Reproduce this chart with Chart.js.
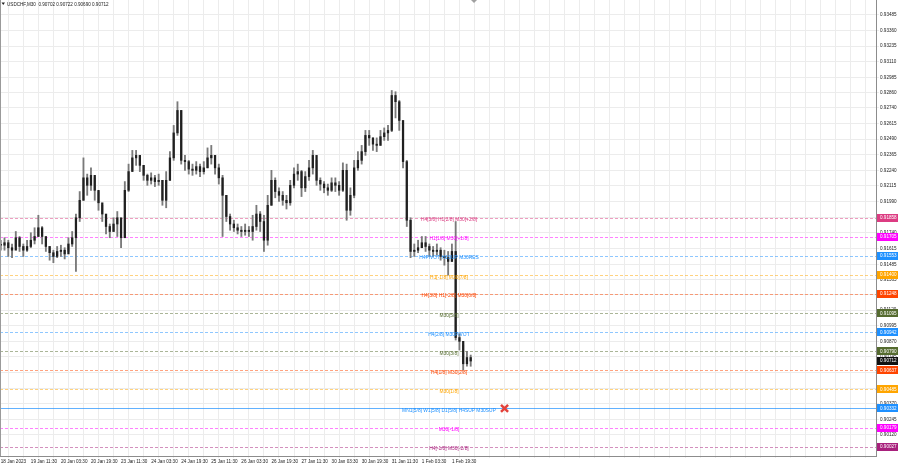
<!DOCTYPE html>
<html>
<head>
<meta charset="utf-8">
<script src="https://cdn.jsdelivr.net/npm/chart.js@4"></script>
<style>
html, body { margin: 0; padding: 0; background: #fff; }
#wrap { width: 900px; height: 468px; }
</style>
</head>
<body>
<div id="wrap"><canvas id="chart" width="900" height="468"></canvas></div>
<script>
const closes = [
    0.9164, 0.9166, 0.9162, 0.9160, 0.9170, 0.9163, 0.9160, 0.9163, 0.9168, 0.9171,
    0.9178, 0.9171, 0.9163, 0.9158, 0.9155, 0.9159, 0.9160, 0.9157, 0.9165, 0.9170,
    0.9186, 0.9200, 0.9218, 0.9212, 0.9220, 0.9208, 0.9198, 0.9189, 0.9179, 0.9175,
    0.9181, 0.9186, 0.9170, 0.9208, 0.9223, 0.9234, 0.9236, 0.9228, 0.9220, 0.9216,
    0.9218, 0.9215, 0.9216, 0.9200, 0.9216, 0.9234, 0.9254, 0.9272, 0.9232, 0.9231,
    0.9225, 0.9224, 0.9227, 0.9223, 0.9226, 0.9234, 0.9236, 0.9226, 0.9218, 0.9204,
    0.9187, 0.9181, 0.9178, 0.9176, 0.9175, 0.9176, 0.9175, 0.9179, 0.9189, 0.9183,
    0.9168, 0.9196, 0.9216, 0.9207, 0.9204, 0.9200, 0.9198, 0.9212, 0.9221, 0.9223,
    0.9210, 0.9219, 0.9226, 0.9236, 0.9216, 0.9213, 0.9210, 0.9208, 0.9214, 0.9212,
    0.9208, 0.9224, 0.9192, 0.9204, 0.9226, 0.9232, 0.9239, 0.9252, 0.9250, 0.9245,
    0.9244, 0.9251, 0.9254, 0.9256, 0.9284, 0.9279, 0.9264, 0.9231, 0.9184, 0.9159,
    0.9160, 0.9162, 0.9166, 0.9163, 0.9160, 0.9159, 0.9160, 0.9155, 0.9154, 0.9151,
    0.9159, 0.9090, 0.9087, 0.9069, 0.9074, 0.90712
];
const highs = [
    0.9168, 0.9170, 0.9168, 0.9165, 0.9175, 0.9171, 0.9165, 0.9168, 0.9174, 0.9178,
    0.9188, 0.9179, 0.9170, 0.9163, 0.9160, 0.9163, 0.9164, 0.9162, 0.9170, 0.9175,
    0.9189, 0.9207, 0.9234, 0.9221, 0.9226, 0.9218, 0.9207, 0.9196, 0.9187, 0.9181,
    0.9186, 0.9191, 0.9183, 0.9215, 0.9229, 0.9240, 0.9240, 0.9236, 0.9228, 0.9221,
    0.9222, 0.9220, 0.9221, 0.9216, 0.9223, 0.9239, 0.9260, 0.9279, 0.9272, 0.9236,
    0.9232, 0.9229, 0.9231, 0.9229, 0.9231, 0.9242, 0.9244, 0.9236, 0.9229, 0.9220,
    0.9204, 0.9189, 0.9184, 0.9181, 0.9179, 0.9181, 0.9179, 0.9188, 0.9196, 0.9191,
    0.9188, 0.9204, 0.9224, 0.9218, 0.9210, 0.9207, 0.9204, 0.9216, 0.9226, 0.9229,
    0.9224, 0.9223, 0.9232, 0.9240, 0.9232, 0.9218, 0.9215, 0.9213, 0.9218, 0.9218,
    0.9215, 0.9230, 0.9229, 0.9210, 0.9232, 0.9239, 0.9244, 0.9256, 0.9256, 0.9250,
    0.9250, 0.9256, 0.9258, 0.9260, 0.9288, 0.9287, 0.9280, 0.9260, 0.9232, 0.9186,
    0.9165, 0.9168, 0.9171, 0.9171, 0.9165, 0.9163, 0.9165, 0.9162, 0.9160, 0.9159,
    0.9165, 0.9183, 0.9093, 0.9084, 0.9079, 0.9076
];
const lows = [
    0.9160, 0.9160, 0.9155, 0.9154, 0.9163, 0.9159, 0.9155, 0.9159, 0.9162, 0.9165,
    0.9171, 0.9165, 0.9159, 0.9152, 0.9150, 0.9154, 0.9155, 0.9153, 0.9159, 0.9163,
    0.9143, 0.9183, 0.9200, 0.9204, 0.9208, 0.9200, 0.9192, 0.9183, 0.9173, 0.9170,
    0.9175, 0.9171, 0.9162, 0.9170, 0.9207, 0.9224, 0.9228, 0.9223, 0.9216, 0.9212,
    0.9213, 0.9211, 0.9212, 0.9196, 0.9194, 0.9216, 0.9232, 0.9252, 0.9229, 0.9224,
    0.9221, 0.9220, 0.9221, 0.9219, 0.9221, 0.9226, 0.9229, 0.9221, 0.9213, 0.9171,
    0.9183, 0.9176, 0.9175, 0.9173, 0.9171, 0.9172, 0.9171, 0.9168, 0.9176, 0.9175,
    0.9159, 0.9164, 0.9196, 0.9202, 0.9199, 0.9196, 0.9193, 0.9196, 0.9210, 0.9216,
    0.9203, 0.9207, 0.9216, 0.9221, 0.9212, 0.9208, 0.9206, 0.9204, 0.9207, 0.9207,
    0.9204, 0.9207, 0.9184, 0.9188, 0.9202, 0.9224, 0.9229, 0.9236, 0.9244, 0.9240,
    0.9239, 0.9244, 0.9248, 0.9248, 0.9255, 0.9266, 0.9256, 0.9226, 0.9179, 0.9154,
    0.9155, 0.9158, 0.9162, 0.9159, 0.9155, 0.9155, 0.9156, 0.9152, 0.9148, 0.9140,
    0.9151, 0.9088, 0.9080, 0.9064, 0.9067, 0.9067
];

// one label every 8 samples (16 hours)
const xLabels = [
    '18 Jan 2023', '19 Jan 11:30', '20 Jan 03:30', '20 Jan 19:30', '23 Jan 11:30',
    '24 Jan 03:30', '24 Jan 19:30', '25 Jan 11:30', '26 Jan 03:30', '26 Jan 19:30',
    '27 Jan 11:30', '30 Jan 03:30', '30 Jan 19:30', '31 Jan 11:30', '1 Feb 03:30',
    '1 Feb 19:30'
];
const yTicks = [
    0.93485, 0.93360, 0.93235, 0.93110, 0.92985, 0.92860, 0.92740, 0.92615, 0.92490,
    0.92365, 0.92240, 0.92115, 0.91990, 0.91865, 0.91740, 0.91615, 0.91485, 0.91365,
    0.91245, 0.91120, 0.90995, 0.90870, 0.90745, 0.90620, 0.90495, 0.90370, 0.90245,
    0.90120
];

// Murrey math levels
const levelValues = [0.91858, 0.91705, 0.91553, 0.91400, 0.91248, 0.91095, 0.90942,
    0.90790, 0.90637, 0.90485, 0.90332, 0.90179, 0.90027];
const levelNames = [
    'H4[5/8] H1[2/8] M30[+2/8]', 'H1[1/8] M30[+1/8]', 'H4PIVOT H1SUP M30RES',
    'H1[-1/8] M30[7/8]', 'H4[3/8] H1[-2/8] M30[6/8]', 'M30[5/8]', 'H4[2/8] M30PIVOT',
    'M30[3/8]', 'H4[1/8] M30[2/8]', 'M30[1/8]', 'MN1[5/8] W1[5/8] D1[5/8] H4SUP M30SUP',
    'M30[-1/8]', 'H4[-1/8] M30[-2/8]'
];
const levelColors = ['#dc3c82', '#ff00ff', '#1e90ff', '#ffa500', '#ff4500', '#556b2f',
    '#1e90ff', '#556b2f', '#ff4500', '#ffa500', '#1e90ff', '#ff00ff', '#a8207c'];
const levelSolid = [false, false, false, false, false, false, false, false, false, false,
    true, false, false];

const lastPrice = 0.90712;
const titleText = 'USDCHF,M30  0.90702 0.90722 0.90690 0.90712';
const crossPoint = [{ x: 134, y: 0.90332 }];

const smallFont = '4.6px "Liberation Sans", Arial, sans-serif';

const levelsPlugin = {
    id: 'levels',
    beforeDatasetsDraw(chart) {
        const { ctx, chartArea } = chart;
        const yScale = chart.scales.y;
        ctx.save();
        ctx.lineWidth = 1;
        levelValues.forEach((v, i) => {
            const py = Math.round(yScale.getPixelForValue(v)) + 0.5;
            ctx.strokeStyle = levelColors[i];
            ctx.globalAlpha = levelSolid[i] ? 0.7 : 0.5;
            ctx.setLineDash(levelSolid[i] ? [] : [3, 2]);
            ctx.beginPath();
            ctx.moveTo(chartArea.left, py);
            ctx.lineTo(chartArea.right, py);
            ctx.stroke();
        });
        ctx.restore();
    },
    afterDraw(chart) {
        const { ctx, chartArea } = chart;
        const yScale = chart.scales.y;
        ctx.save();

        // frame on the left
        ctx.fillStyle = '#9a9a9a';
        ctx.fillRect(chartArea.left, chartArea.top, 1, chartArea.bottom - chartArea.top);

        // level names
        ctx.font = '4.9px "Liberation Sans", Arial, sans-serif';
        ctx.textAlign = 'center';
        ctx.textBaseline = 'middle';
        levelValues.forEach((v, i) => {
            const py = yScale.getPixelForValue(v);
            ctx.fillStyle = levelColors[i];
            ctx.fillText(levelNames[i], 449, py + 2);
        });

        // price boxes on the right axis
        ctx.font = smallFont;
        ctx.textAlign = 'left';
        const drawBox = (v, color) => {
            const py = yScale.getPixelForValue(v);
            ctx.fillStyle = color;
            ctx.fillRect(chartArea.right + 1, Math.round(py) - 4, 21, 8);
            ctx.fillStyle = '#fff';
            ctx.fillText(v.toFixed(5), chartArea.right + 4, py);
        };
        levelValues.forEach((v, i) => drawBox(v, levelColors[i]));
        drawBox(lastPrice, '#111');

        // title
        ctx.fillStyle = '#222';
        ctx.beginPath();
        ctx.moveTo(1.5, 2.5);
        ctx.lineTo(5, 2.5);
        ctx.lineTo(3.25, 5);
        ctx.fill();
        ctx.font = smallFont;
        ctx.fillText(titleText, 7, 4.5);

        // chart shift marker
        ctx.fillStyle = '#a0a0a0';
        ctx.beginPath();
        ctx.moveTo(471, 0);
        ctx.lineTo(477, 0);
        ctx.lineTo(474, 3);
        ctx.fill();
        ctx.restore();
    }
};

function initializeChart() {
    const ctx = document.getElementById('chart').getContext('2d');
    const wicks = highs.map((h, i) => ({ x: i, y: [lows[i], h] }));
    const bodies = closes.map((c, i) => ({ x: i, y: [i > 0 ? closes[i - 1] : c, c] }));

    new Chart(ctx, {
        type: 'bar',
        data: {
            datasets: [
                {
                    type: 'scatter',
                    data: crossPoint,
                    pointStyle: 'crossRot',
                    radius: 5,
                    borderWidth: 2.5,
                    borderColor: '#e3423b',
                    order: 0
                },
                {
                    data: bodies,
                    backgroundColor: '#202020',
                    barThickness: 1.6,
                    grouped: false,
                    minBarLength: 1,
                    order: 1
                },
                {
                    data: wicks,
                    backgroundColor: '#7a7a7a',
                    barThickness: 1.2,
                    grouped: false,
                    minBarLength: 1,
                    order: 2
                }
            ]
        },
        options: {
            responsive: false,
            animation: false,
            devicePixelRatio: 1,
            layout: { padding: 0, autoPadding: false },
            plugins: {
                legend: { display: false },
                tooltip: { enabled: false }
            },
            scales: {
                x: {
                    type: 'linear',
                    offset: false,
                    min: -0.2,
                    max: 232.8,
                    afterBuildTicks(scale) {
                        const t = [];
                        for (let v = 0; v <= 232; v += 4) t.push({ value: v });
                        scale.ticks = t;
                    },
                    afterFit(scale) {
                        scale.height = 12;
                        scale.paddingLeft = 0;
                        scale.paddingRight = 0;
                    },
                    grid: { color: '#ececec', tickLength: 2, drawTicks: true },
                    border: { display: true, color: '#8c8c8c' },
                    ticks: {
                        autoSkip: false,
                        maxRotation: 0,
                        align: 'start',
                        padding: 1,
                        color: '#222',
                        font: { family: '"Liberation Sans", Arial, sans-serif', size: 4.6 },
                        callback: (v) => (v % 8 === 0 && xLabels[v / 8]) ? xLabels[v / 8] : ''
                    }
                },
                y: {
                    position: 'right',
                    min: 0.89951,
                    max: 0.93605,
                    afterBuildTicks(scale) {
                        scale.ticks = yTicks.map(v => ({ value: v }));
                    },
                    afterFit(scale) {
                        scale.width = 24;
                        scale.paddingTop = 0;
                        scale.paddingBottom = 0;
                    },
                    grid: { color: '#ececec', tickLength: 3 },
                    border: { display: true, color: '#8c8c8c' },
                    ticks: {
                        autoSkip: false,
                        padding: 1,
                        color: '#222',
                        font: { family: '"Liberation Sans", Arial, sans-serif', size: 4.6 },
                        callback: (v) => v.toFixed(5)
                    }
                }
            }
        },
        plugins: [levelsPlugin]
    });
}

initializeChart();
</script>
</body>
</html>
